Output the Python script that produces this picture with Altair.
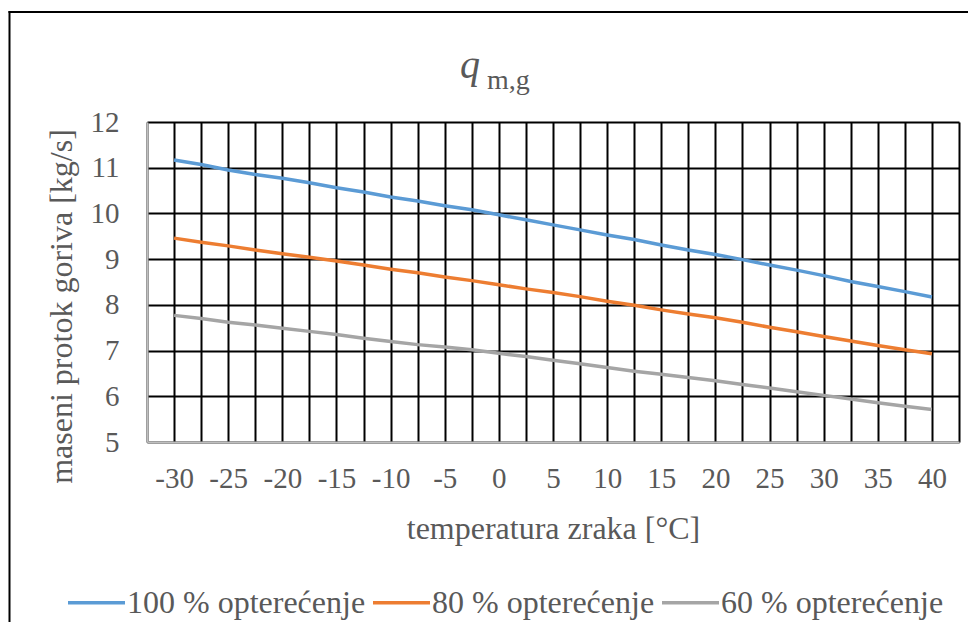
import altair as alt
import pandas as pd

temps = [-30, -27.5, -25, -22.5, -20, -17.5, -15, -12.5, -10, -7.5, -5, -2.5, 0, 2.5, 5,
         7.5, 10, 12.5, 15, 17.5, 20, 22.5, 25, 27.5, 30, 32.5, 35, 37.5, 40]
load_100 = [11.17, 11.07, 10.95, 10.85, 10.77, 10.67, 10.56, 10.47, 10.36, 10.27, 10.17, 10.08,
            9.97, 9.86, 9.75, 9.64, 9.53, 9.43, 9.31, 9.20, 9.10, 8.99, 8.87, 8.76, 8.64, 8.51,
            8.40, 8.29, 8.17]
load_80 = [9.46, 9.37, 9.29, 9.20, 9.12, 9.04, 8.96, 8.87, 8.78, 8.70, 8.61, 8.53, 8.44, 8.35,
           8.27, 8.18, 8.08, 7.99, 7.89, 7.80, 7.72, 7.62, 7.51, 7.41, 7.31, 7.21, 7.11, 7.02, 6.93]
load_60 = [7.77, 7.70, 7.62, 7.56, 7.49, 7.42, 7.35, 7.27, 7.20, 7.13, 7.08, 7.02, 6.94, 6.87,
           6.79, 6.71, 6.63, 6.55, 6.48, 6.41, 6.34, 6.26, 6.18, 6.10, 6.02, 5.94, 5.86, 5.78, 5.71]
series_names = ["100 % opterećenje", "80 % opterećenje", "60 % opterećenje"]
series_colors = ["#5B9BD5", "#ED7D31", "#A5A5A5"]
x_grid_values = [-32.5 + 2.5 * i for i in range(31)]
y_ticks = [5, 6, 7, 8, 9, 10, 11, 12]
x_title = "temperatura zraka [°C]"
y_title = "maseni protok goriva [kg/s]"
title_main = "q"
title_sub = "m,g"

rows = []
for name, vals in zip(series_names, [load_100, load_80, load_60]):
    for t, v in zip(temps, vals):
        rows.append({"temp": t, "q": v, "serija": name})
df = pd.DataFrame(rows)

FONT = "Liberation Serif"
TXT = "#595959"

lines = alt.Chart(df).mark_line(strokeWidth=3.5).encode(
    x=alt.X("temp:Q",
            scale=alt.Scale(domain=[-32.5, 42.5], nice=False, zero=False),
            axis=alt.Axis(values=x_grid_values, title=x_title,
                          labelExpr="(datum.value % 5 == 0) ? ('' + datum.value) : ''",
                          labelOverlap=False, labelFlush=False,
                          labelPadding=22, labelFontSize=29,
                          titleFontSize=32, titleY=96, titleBaseline="alphabetic",
                          titleFontWeight="normal")),
    y=alt.Y("q:Q",
            scale=alt.Scale(domain=[5, 12], nice=False, zero=False),
            axis=alt.Axis(values=y_ticks, title=y_title, labelPadding=28, labelFontSize=29,
                          titleFontSize=32, titleX=-86, titleY=184, titleBaseline="middle",
                          titleFontWeight="normal")),
    color=alt.Color("serija:N",
                    scale=alt.Scale(domain=series_names, range=series_colors),
                    sort=series_names,
                    legend=alt.Legend(title=None, orient="none", direction="horizontal",
                                      legendX=-81, legendY=450,
                                      symbolType="stroke", symbolSize=3249,
                                      symbolStrokeWidth=3.5, labelFontSize=32,
                                      labelOffset=0, columnPadding=0, labelLimit=0,
                                      labelFont=FONT, labelColor=TXT)),
)

one = alt.Data(values=[{"k": 1}])
t_main = alt.Chart(one).mark_text(font=FONT, fontSize=40, fontStyle="italic", color=TXT,
                                  align="left", baseline="alphabetic").encode(
    x=alt.value(313), y=alt.value(-44), text=alt.value(title_main))
t_sub = alt.Chart(one).mark_text(font=FONT, fontSize=28, color=TXT,
                                 align="left", baseline="alphabetic").encode(
    x=alt.value(340), y=alt.value(-33), text=alt.value(title_sub))

border_left = alt.Chart(one).mark_rule(color="black", strokeWidth=2).encode(
    x=alt.value(-137.5), y=alt.value(-111), y2=alt.value(520))
border_top = alt.Chart(one).mark_rule(color="black", strokeWidth=2).encode(
    x=alt.value(-138.5), x2=alt.value(840), y=alt.value(-110))

chart = alt.layer(lines, t_main, t_sub, border_left, border_top).properties(
    width=812, height=320,
    autosize=alt.AutoSizeParams(type="none"),
    padding={"left": 139, "top": 114, "right": 9, "bottom": 180},
).configure_view(stroke=None).configure_axis(
    labelFont=FONT, titleFont=FONT, labelColor=TXT, titleColor=TXT,
    ticks=False, grid=True, gridColor="black", gridWidth=2, gridOpacity=1,
    domainColor="#BFBFBF", domainWidth=2,
)

chart.save("out.html", embed_options={"renderer": "svg", "actions": False})
